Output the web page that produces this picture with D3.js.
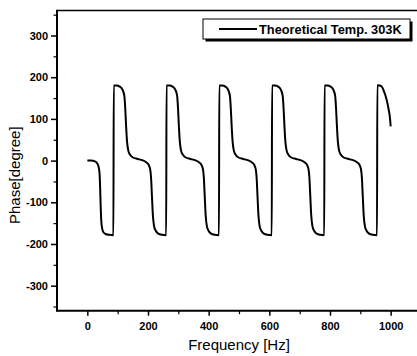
<!DOCTYPE html>
<html>
<head>
<meta charset="utf-8">
<script src="https://cdn.jsdelivr.net/npm/d3@7"></script>
<style>
  html, body { margin: 0; padding: 0; background: #fff; }
  svg { display: block; font-family: "Liberation Sans", Arial, sans-serif; }
</style>
</head>
<body>
<div id="chart"></div>
<script>
const width = 417, height = 356;

// axis ticks
const xTicks = [0, 200, 400, 600, 800, 1000];
const xMinor = [100, 300, 500, 700, 900];
const yTicks = [-300, -200, -100, 0, 100, 200, 300];
const yMinor = [-350, -250, -150, -50, 50, 150, 250, 350];

const legendLabel = "Theoretical Temp. 303K";

// phase curve: [frequency Hz, phase degree]
const phasePoints = [
  [0, 0], [12, 0], [25, -2], [31, -5], [36, -12], [40, -28], [42, -60], [44, -110], [46, -145],
  [49, -163], [53, -172], [60, -176], [72, -178], [86, -179],
  [87, 180], [96, 180], [108, 177], [116, 170], [122, 155], [125, 125], [128, 80], [131, 45],
  [135, 24], [141, 14], [149, 8], [166, 4], [181, 1], [194, -4], [202, -10], [207, -20],
  [210, -40], [213, -85], [216, -130], [220, -157], [226, -169], [234, -175], [246, -178], [260, -179],
  [261, 180], [270, 180], [282, 177], [290, 170], [296, 156], [299, 125], [302, 80], [305, 45],
  [309, 24], [315, 14], [323, 8], [340, 4], [355, 1], [368, -4], [376, -10], [381, -20],
  [384, -40], [387, -85], [390, -130], [394, -157], [400, -169], [408, -175], [420, -178], [434, -179],
  [435, 180], [444, 180], [456, 177], [464, 170], [470, 155], [473, 125], [476, 80], [479, 45],
  [483, 24], [489, 14], [497, 8], [514, 4], [529, 1], [542, -4], [550, -10], [555, -20],
  [558, -40], [561, -85], [564, -130], [568, -157], [574, -169], [582, -175], [594, -178], [608, -179],
  [609, 180], [618, 180], [630, 177], [638, 170], [644, 155], [647, 125], [650, 80], [653, 45],
  [657, 24], [663, 14], [671, 8], [688, 4], [703, 1], [716, -4], [724, -10], [729, -20],
  [732, -40], [735, -85], [738, -130], [742, -157], [748, -169], [756, -175], [768, -178], [781, -179],
  [782, 180], [791, 180], [803, 177], [811, 170], [817, 155], [820, 125], [823, 80], [826, 45],
  [830, 24], [836, 14], [844, 8], [861, 4], [876, 1], [889, -4], [897, -10], [902, -20],
  [905, -40], [908, -85], [911, -130], [915, -157], [921, -169], [929, -175], [941, -178], [955, -179],
  [956, 181], [964, 180], [972, 176], [977, 168], [982, 158], [988, 142], [993, 124], [998, 100], [1000, 82]
];

const svg = d3.select("#chart").append("svg")
  .attr("width", width)
  .attr("height", height);

const plotL = 57, plotR = 421, plotT = 10.5, plotB = 310.7;

const x = d3.scaleLinear().domain([-100, 1100]).range([plotL, plotR]);
const y = d3.scaleLinear().domain([-360, 360]).range([plotB, plotT]);

const plainNum = d => String(d);   // keep ASCII hyphen, no thousands comma

// minor ticks
svg.append("g")
  .attr("transform", `translate(${plotL},0)`)
  .call(d3.axisLeft(y).tickValues(yMinor).tickSize(3.5).tickFormat(""))
  .call(g => g.select(".domain").remove())
  .selectAll("line").attr("stroke-width", 1.2);

svg.append("g")
  .attr("transform", `translate(0,${plotB})`)
  .call(d3.axisBottom(x).tickValues(xMinor).tickSize(3.5).tickFormat(""))
  .call(g => g.select(".domain").remove())
  .selectAll("line").attr("stroke-width", 1.2);

// major ticks + labels
const yAxis = svg.append("g")
  .attr("transform", `translate(${plotL},0)`)
  .call(d3.axisLeft(y).tickValues(yTicks).tickSize(6).tickPadding(3).tickFormat(plainNum))
  .call(g => g.select(".domain").remove());
yAxis.selectAll("line").attr("stroke-width", 1.5);
yAxis.selectAll("text")
  .style("font-family", "'Liberation Sans', Arial, sans-serif")
  .style("font-size", "11px")
  .style("font-weight", "bold")
  .attr("fill", "#000");

const xAxis = svg.append("g")
  .attr("transform", `translate(0,${plotB})`)
  .call(d3.axisBottom(x).tickValues(xTicks).tickSize(5).tickPadding(7).tickFormat(plainNum))
  .call(g => g.select(".domain").remove());
xAxis.selectAll("line").attr("stroke-width", 1.5);
xAxis.selectAll("text")
  .style("font-family", "'Liberation Sans', Arial, sans-serif")
  .style("font-size", "11px")
  .style("font-weight", "bold")
  .attr("fill", "#000");

// frame
svg.append("line").attr("x1", plotL).attr("x2", plotR).attr("y1", plotT).attr("y2", plotT)
  .attr("stroke", "#000").attr("stroke-width", 1.5);
svg.append("line").attr("x1", plotL).attr("x2", plotR).attr("y1", plotB).attr("y2", plotB)
  .attr("stroke", "#000").attr("stroke-width", 2);
svg.append("line").attr("x1", plotL).attr("x2", plotL).attr("y1", plotT - 0.75).attr("y2", plotB + 1)
  .attr("stroke", "#000").attr("stroke-width", 2);

// curve
const line = d3.line()
  .x(d => x(d[0]))
  .y(d => y(d[1]))
  .curve(d3.curveMonotoneX);

svg.append("path")
  .datum(phasePoints)
  .attr("d", line)
  .attr("fill", "none")
  .attr("stroke", "#000")
  .attr("stroke-width", 2)
  .attr("stroke-linejoin", "round");

// axis titles
svg.append("text")
  .attr("x", x(500))
  .attr("y", 350)
  .attr("text-anchor", "middle")
  .style("font-size", "15px")
  .text("Frequency [Hz]");

svg.append("text")
  .attr("transform", `translate(20,${y(-35)}) rotate(-90)`)
  .attr("text-anchor", "middle")
  .style("font-size", "15px")
  .text("Phase[degree]");

// legend
const lg = svg.append("g");
lg.append("rect")
  .attr("x", 205.5).attr("y", 21.5).attr("width", 207).attr("height", 20)
  .attr("fill", "#000");
lg.append("rect")
  .attr("x", 203).attr("y", 19).attr("width", 207).attr("height", 20)
  .attr("fill", "#fff").attr("stroke", "#000").attr("stroke-width", 1);
lg.append("line")
  .attr("x1", 219).attr("x2", 257).attr("y1", 29).attr("y2", 29)
  .attr("stroke", "#000").attr("stroke-width", 2);
lg.append("text")
  .attr("x", 259).attr("y", 33.5)
  .style("font-size", "12.8px")
  .style("font-weight", "bold")
  .text(legendLabel);
</script>
</body>
</html>
